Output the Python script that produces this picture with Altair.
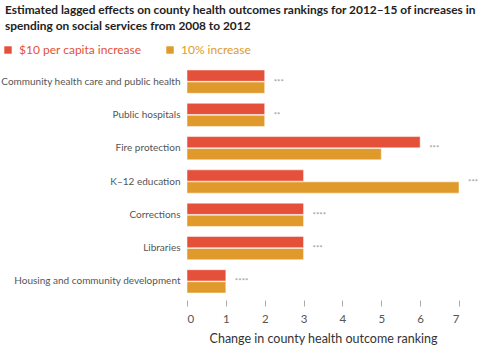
import altair as alt
import pandas as pd

categories = [
    "Community health care and public health",
    "Public hospitals",
    "Fire protection",
    "K–12 education",
    "Corrections",
    "Libraries",
    "Housing and community development",
]
per_capita = [2, 2, 6, 3, 3, 3, 1]
percent = [2, 2, 5, 7, 3, 3, 1]
stars = ["***", "**", "***", "***", "****", "***", "****"]
series = ["$10 per capita increase", "10% increase"]
colors = ["#e5503a", "#e09a2b"]
x_ticks = [0, 1, 2, 3, 4, 5, 6, 7]

rows = []
for c, a, b in zip(categories, per_capita, percent):
    rows.append({"cat": c, "series": series[0], "value": a})
    rows.append({"cat": c, "series": series[1], "value": b})
bars_df = pd.DataFrame(rows)
stars_df = pd.DataFrame({
    "cat": categories,
    "stars": stars,
    "pos": [max(a, b) for a, b in zip(per_capita, percent)],
})

FONT = "Lato"

y_axis = alt.Axis(title=None, ticks=False, domain=False, labelPadding=7,
                  labelColor="#555", labelFontSize=10, labelFont=FONT,
                  labelLimit=300)
y_scale = alt.Scale(paddingInner=0.3, paddingOuter=0.15)
x_axis = alt.Axis(values=x_ticks, format="d", grid=False, domain=False,
                  labelOverlap=False, ticks=True,
                  tickColor="#aaa", tickWidth=1, tickSize=6, offset=2, labelPadding=7,
                  labelColor="#555", labelFontSize=11.5, labelFont=FONT,
                  title="Change in county health outcome ranking",
                  titleFont=FONT, titleFontSize=12.5, titleFontWeight="normal",
                  titleColor="#333", titlePadding=8)
x_scale = alt.Scale(domain=[0, 7], nice=False)

bars = alt.Chart(bars_df).mark_bar(stroke="white", strokeWidth=0.5).encode(
    y=alt.Y("cat:N", sort=categories, scale=y_scale, axis=y_axis),
    yOffset=alt.YOffset("series:N", sort=series, scale=alt.Scale(paddingInner=0.06)),
    x=alt.X("value:Q", scale=x_scale, axis=x_axis),
    color=alt.Color("series:N", sort=series,
                    scale=alt.Scale(domain=series, range=colors),
                    legend=alt.Legend(title=None, orient="none", direction="horizontal",
                                      legendX=-185, legendY=-21, symbolType="square",
                                      symbolSize=55, symbolStrokeWidth=0,
                                      labelFontSize=12, labelFont=FONT,
                                      labelOffset=5, columnPadding=22,
                                      labelColor={"expr": "datum.value == '10% increase' ? '#e09a2b' : '#e5503a'"})),
)

text = alt.Chart(stars_df).mark_text(align="left", baseline="middle", dx=9, dy=1,
                                     fontSize=8, color="#999", font=FONT).encode(
    y=alt.Y("cat:N", sort=categories, scale=y_scale, axis=y_axis),
    x=alt.X("pos:Q", scale=x_scale, axis=x_axis),
    text="stars:N",
)

chart = alt.layer(bars, text).properties(
    width=272,
    height=233,
    title=alt.TitleParams(
        ["Estimated lagged effects on county health outcomes rankings for 2012–15 of increases in",
         "spending on social services from 2008 to 2012"],
        anchor="start", frame="group", dx=-182, fontSize=11.9, font=FONT,
        fontWeight="bold", color="#222", lineHeight=16, offset=11),
    autosize="none",
    padding={"left": 187, "top": 65, "right": 41, "bottom": 57},
).configure_view(stroke=None)

chart.save("out.html", embed_options={"renderer": "svg", "actions": False})
